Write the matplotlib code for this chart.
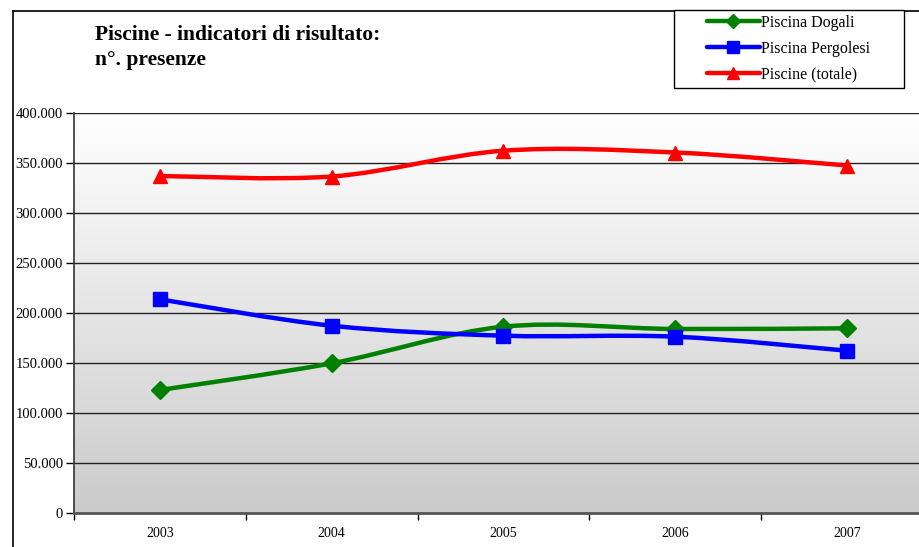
import numpy as np
import matplotlib
matplotlib.use("Agg")
import matplotlib.pyplot as plt
from matplotlib.path import Path
from matplotlib.patches import PathPatch, Rectangle
from matplotlib.lines import Line2D

years = ["2003", "2004", "2005", "2006", "2007"]
dogali = [123000, 149700, 186300, 184000, 184700]
pergolesi = [213700, 187300, 177300, 176300, 162300]
totale = [337000, 336500, 362300, 360500, 347500]
yticks = [0, 50000, 100000, 150000, 200000, 250000, 300000, 350000, 400000]
ytick_labels = ["0", "50.000", "100.000", "150.000", "200.000", "250.000",
                "300.000", "350.000", "400.000"]

series = [
    ("Piscina Dogali", dogali, "#008000", "D", 9),
    ("Piscina Pergolesi", pergolesi, "#0000ff", "s", 10),
    ("Piscine (totale)", totale, "#ff0000", "^", 10),
]

plt.rcParams["font.family"] = ["Liberation Serif", "DejaVu Serif"]

W, H = 919, 547
fig = plt.figure(figsize=(W / 100, H / 100), dpi=100)
fig.patch.set_facecolor("white")

ax = fig.add_axes([74 / W, (H - 513) / H, 859 / W, 400 / H])
ax.set_xlim(-0.5, 4.5)
ax.set_ylim(0, 400000)

# gradient background
grad = np.linspace(1.0, 0.0, 256).reshape(-1, 1)
cmap = matplotlib.colors.LinearSegmentedColormap.from_list("g", ["#cbcbcb", "#ffffff"])
ax.imshow(grad, extent=(-0.5, 4.5, 0, 400000), aspect="auto", cmap=cmap,
          origin="upper", zorder=0, vmin=0, vmax=1)

for yv in yticks[1:]:
    ax.axhline(yv, color="#222222", lw=1.0, zorder=1)


def smooth_path(xs, ys):
    pts = np.column_stack([xs, ys]).astype(float)
    n = len(pts)
    verts = [pts[0]]
    codes = [Path.MOVETO]
    for i in range(n - 1):
        p0 = pts[i - 1] if i > 0 else pts[i]
        p1 = pts[i]
        p2 = pts[i + 1]
        p3 = pts[i + 2] if i + 2 < n else pts[i + 1]
        c1 = p1 + (p2 - p0) / 6.0
        c2 = p2 - (p3 - p1) / 6.0
        verts += [c1, c2, p2]
        codes += [Path.CURVE4] * 3
    return Path(verts, codes)


x = np.arange(len(years))
handles = []
for name, vals, col, mk, ms in series:
    patch = PathPatch(smooth_path(x, vals), facecolor="none", edgecolor=col,
                      lw=3.2, zorder=3, capstyle="round", joinstyle="round")
    ax.add_patch(patch)
    ax.plot(x, vals, linestyle="none", marker=mk, markersize=ms, color=col,
            markeredgecolor=col, zorder=4, clip_on=False)
    handles.append(Line2D([], [], color=col, lw=3.2, marker=mk, markersize=ms - 2,
                          solid_capstyle="round"))

for s in ["top", "right"]:
    ax.spines[s].set_visible(False)
ax.spines["left"].set_color("#333333")
ax.spines["bottom"].set_color("#555555")
ax.spines["bottom"].set_linewidth(2)
ax.spines["left"].set_linewidth(1.2)

ax.set_yticks(yticks)
ax.set_yticklabels(ytick_labels, fontsize=10.5)
ax.tick_params(axis="y", length=6, width=1, pad=2)

ax.set_xticks(np.arange(-0.5, 5.0, 1.0))
ax.set_xticklabels([""] * 6)
ax.tick_params(axis="x", which="major", length=5, width=1, direction="out")
ax.set_xticks(x, minor=True)
ax.set_xticklabels(years, minor=True, fontsize=10)
ax.tick_params(axis="x", which="minor", length=0, pad=10)

# outer chart border
fig.add_artist(Line2D([13 / W, 13 / W], [0, 1 - 11 / H], transform=fig.transFigure,
                      color="black", lw=1.2))
fig.add_artist(Line2D([13 / W, 1], [1 - 11 / H, 1 - 11 / H], transform=fig.transFigure,
                      color="black", lw=1.2))

fig.text(95 / W, 1 - 35 / H, "Piscine - indicatori di risultato:", fontsize=15.5,
         fontweight="bold", va="center", ha="left")
fig.text(95 / W, 1 - 60 / H, "n°. presenze", fontsize=15.5,
         fontweight="bold", va="center", ha="left")

# legend box
fig.add_artist(Rectangle((674 / W, 1 - 88 / H), 230 / W, 78 / H,
                         transform=fig.transFigure, facecolor="white",
                         edgecolor="black", lw=1.0, zorder=5))
leg = fig.legend(handles, [s[0] for s in series], loc="upper left",
                 bbox_to_anchor=(707 / W, 1 - 15 / H), fontsize=11.5,
                 frameon=False, handlelength=3.3, handletextpad=0.1,
                 labelspacing=0.6, borderpad=0, borderaxespad=0)
leg.set_zorder(6)

fig.savefig("out.png", dpi=100)
